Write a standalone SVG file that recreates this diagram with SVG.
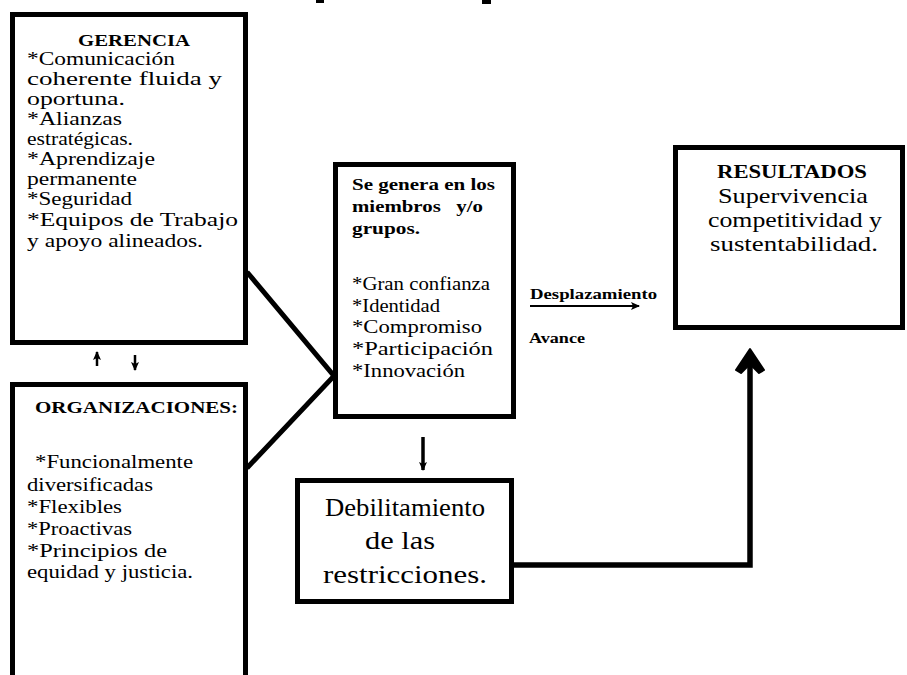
<svg xmlns="http://www.w3.org/2000/svg" width="907" height="675" viewBox="0 0 907 675" font-family="'Liberation Serif', 'Times New Roman', Tinos, serif">
<style>
.box{fill:#fff;stroke:#000;stroke-width:5}
text{font-family:'Liberation Serif','Times New Roman',Tinos,serif;fill:#000}
.b{font-weight:bold}
.conn{stroke:#000;fill:none}
</style>
<defs>
<marker id="ah" markerWidth="10" markerHeight="10" refX="8" refY="5" orient="auto" markerUnits="userSpaceOnUse">
<path d="M0,1 L9,5 L0,9 L2,5 Z" fill="#000"/>
</marker>
</defs>
<rect width="907" height="675" fill="#fff"/>
<path d="M316,0 h8 v3 h-8 Z M482,0 h9 v4 h-9 Z" fill="#000"/>

<g id="connectors">
<path class="conn" d="M247,272 L334,376 L247,468" stroke-width="5" stroke-linejoin="miter"/>
<line class="conn" x1="97" y1="366" x2="97" y2="352" stroke-width="2.5" marker-end="url(#ah)"/>
<line class="conn" x1="135" y1="355" x2="135" y2="370" stroke-width="2.5" marker-end="url(#ah)"/>
<line class="conn" x1="423" y1="437" x2="423" y2="470" stroke-width="3.5" marker-end="url(#ah)"/>
<line class="conn" x1="530" y1="306" x2="639" y2="306" stroke-width="2" marker-end="url(#ah)"/>
<path class="conn" d="M514,565 H750 V360" stroke-width="5.5"/>
<path d="M750,349 L764,370 L759,373 L750,364 L741,373 L736,370 Z" fill="#000" stroke="#000" stroke-width="2" stroke-linejoin="round"/>
</g>

<g id="gerencia">
<rect class="box" x="12.5" y="14.5" width="233" height="328"/>
<text class="b" x="78" y="46" font-family="Liberation Serif" font-size="17.5" textLength="112" lengthAdjust="spacingAndGlyphs">GERENCIA</text>
<g font-size="18.5" font-family="Liberation Serif">
<text x="27" y="65" textLength="148" lengthAdjust="spacingAndGlyphs">*Comunicación</text>
<text x="27" y="85" textLength="195" lengthAdjust="spacingAndGlyphs">coherente fluida y</text>
<text x="27" y="105" textLength="98" lengthAdjust="spacingAndGlyphs">oportuna.</text>
<text x="27" y="125" textLength="95" lengthAdjust="spacingAndGlyphs">*Alianzas</text>
<text x="27" y="145" textLength="106" lengthAdjust="spacingAndGlyphs">estratégicas.</text>
<text x="27" y="165" textLength="128" lengthAdjust="spacingAndGlyphs">*Aprendizaje</text>
<text x="27" y="185" textLength="110" lengthAdjust="spacingAndGlyphs">permanente</text>
<text x="27" y="205" textLength="105" lengthAdjust="spacingAndGlyphs">*Seguridad</text>
<text x="27" y="226" textLength="211" lengthAdjust="spacingAndGlyphs">*Equipos de Trabajo</text>
<text x="27" y="247" textLength="176" lengthAdjust="spacingAndGlyphs">y apoyo alineados.</text>
</g>
</g>

<g id="organizaciones">
<rect class="box" x="12.5" y="384.5" width="233" height="320"/>
<text class="b" x="35" y="413" font-family="Liberation Serif" font-size="17.5" textLength="203" lengthAdjust="spacingAndGlyphs">ORGANIZACIONES:</text>
<g font-size="19" font-family="Liberation Serif">
<text x="35" y="468" textLength="158" lengthAdjust="spacingAndGlyphs">*Funcionalmente</text>
<text x="27" y="491" textLength="126" lengthAdjust="spacingAndGlyphs">diversificadas</text>
<text x="27" y="513" textLength="95" lengthAdjust="spacingAndGlyphs">*Flexibles</text>
<text x="27" y="535" textLength="105" lengthAdjust="spacingAndGlyphs">*Proactivas</text>
<text x="27" y="557" textLength="140" lengthAdjust="spacingAndGlyphs">*Principios de</text>
<text x="27" y="578" textLength="166" lengthAdjust="spacingAndGlyphs">equidad y justicia.</text>
</g>
</g>

<g id="genera">
<rect class="box" x="335.5" y="164.5" width="178" height="252"/>
<g class="b" font-size="16.5" font-family="Liberation Serif">
<text x="352" y="190" textLength="143" lengthAdjust="spacingAndGlyphs">Se genera en los</text>
<text x="352" y="212" textLength="131" lengthAdjust="spacingAndGlyphs" xml:space="preserve">miembros   y/o</text>
<text x="352" y="234" textLength="68" lengthAdjust="spacingAndGlyphs">grupos.</text>
</g>
<g font-size="18" font-family="Liberation Serif">
<text x="352" y="290" textLength="138" lengthAdjust="spacingAndGlyphs">*Gran confianza</text>
<text x="352" y="312" textLength="88" lengthAdjust="spacingAndGlyphs">*Identidad</text>
<text x="352" y="333" textLength="130" lengthAdjust="spacingAndGlyphs">*Compromiso</text>
<text x="352" y="355" textLength="141" lengthAdjust="spacingAndGlyphs">*Participación</text>
<text x="352" y="377" textLength="113" lengthAdjust="spacingAndGlyphs">*Innovación</text>
</g>
</g>

<g id="labels">
<text class="b" x="530" y="299" font-family="Liberation Serif" font-size="14.5" textLength="127" lengthAdjust="spacingAndGlyphs">Desplazamiento</text>
<text class="b" x="529" y="343" font-family="Liberation Serif" font-size="14.5" textLength="56" lengthAdjust="spacingAndGlyphs">Avance</text>
</g>

<g id="debilitamiento">
<rect class="box" x="297.5" y="480.5" width="214" height="121"/>
<g font-size="25" font-family="Liberation Serif" text-anchor="middle">
<text x="405" y="516" textLength="160" lengthAdjust="spacingAndGlyphs">Debilitamiento</text>
<text x="400" y="549" textLength="70" lengthAdjust="spacingAndGlyphs">de las</text>
<text x="405" y="583" textLength="164" lengthAdjust="spacingAndGlyphs">restricciones.</text>
</g>
</g>

<g id="resultados">
<rect class="box" x="675.5" y="147.5" width="227" height="180"/>
<text class="b" x="717" y="178" font-family="Liberation Serif" font-size="18" textLength="150" lengthAdjust="spacingAndGlyphs">RESULTADOS</text>
<g font-size="21" font-family="Liberation Serif">
<text x="718" y="203" textLength="150" lengthAdjust="spacingAndGlyphs">Supervivencia</text>
<text x="708" y="227" textLength="174" lengthAdjust="spacingAndGlyphs">competitividad y</text>
<text x="710" y="251" textLength="168" lengthAdjust="spacingAndGlyphs">sustentabilidad.</text>
</g>
</g>
</svg>
